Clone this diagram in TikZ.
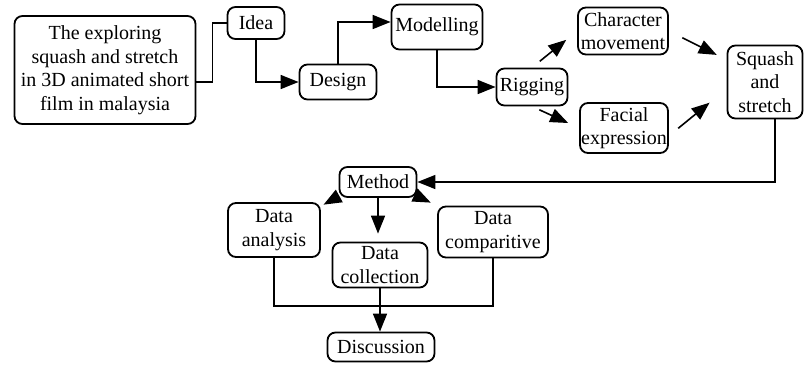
\documentclass[tikz,border=0pt]{standalone}
\usepackage{fontspec}
\setmainfont{Liberation Serif}
\usepackage{tikz}
\usetikzlibrary{arrows.meta}
\tikzset{blk/.style={draw,line width=1.8pt,rounded corners=8pt,align=center,inner sep=1pt,
    font=\fontsize{20}{23.5}\selectfont},
  lnk/.style={line width=1.6pt}}
\newcommand{\rbox}[6]{% x, y, name, width, height, text
  \node[blk,minimum width=#4pt,minimum height=#5pt] (#3) at (#1,#2) {#6};}

\begin{document}
\begin{tikzpicture}[x=1pt,y=-1pt,>={Triangle[length=18pt,width=14pt]}]
  \useasboundingbox (0,0) rectangle (805,378);
  % top row
  \rbox{105}{70}{topic}{181}{108}{The exploring\\squash and stretch\\in 3D animated short\\film in malaysia}
  \rbox{256}{23}{idea}{57}{32}{Idea}
  \rbox{338}{82}{design}{77}{35}{Design}
  \rbox{437}{27}{model}{91}{45}{Modelling}
  \rbox{532}{87}{rig}{71}{37}{Rigging}
  \rbox{623}{31}{charmv}{90}{47}{Character\\movement}
  \rbox{624}{128}{facial}{88}{50}{Facial\\expression}
  \rbox{765}{82}{squash}{75}{73}{Squash\\and\\stretch}
  \draw[lnk] ([yshift=-12pt]topic.east) -- ++(16,0) |- (idea.west);
  \draw[lnk,->] (idea.south) |- (design.west);
  \draw[lnk,->] (design.north) |- ([yshift=5pt]model.west);
  \draw[lnk,->] (model.south) |- (rig.west);
  % rigging branches
  \draw[lnk,->,shorten <=10pt,shorten >=14pt] (rig.north) -- (charmv.west);
  \draw[lnk,->,shorten <=8pt,shorten >=12pt] (rig.south) -- (facial.west);
  \draw[lnk,->,shorten <=15pt,shorten >=11pt] (charmv.east) -- (squash.150);
  \draw[lnk,->,shorten <=12pt,shorten >=22pt] (facial.-10) -- (squash.190);
  % method part
  \rbox{378}{182}{method}{77}{30}{Method}
  \rbox{274}{230}{anal}{92}{54}{Data\\analysis}
  \rbox{493}{232}{compar}{110}{51}{Data\\comparitive}
  \rbox{380}{265}{collect}{95}{45}{Data\\collection}
  \rbox{381}{347}{disc}{107}{29}{Discussion}
  \draw[lnk,->] ([xshift=10pt]squash.south) |- (method.east);
  \draw[lnk,->,shorten >=3pt] (method.200) -- (anal.27);
  \draw[lnk,->,shorten >=8pt] (method.south) -- (method.south |- collect.north);
  \draw[lnk,->,shorten >=7pt] (method.-20) -- (compar.north west);
  \draw[lnk] (anal.south) -- ++(0,48) -| (compar.south);
  \draw[lnk,->] (collect.south) -- (collect.south |- disc.north);
\end{tikzpicture}
\end{document}
